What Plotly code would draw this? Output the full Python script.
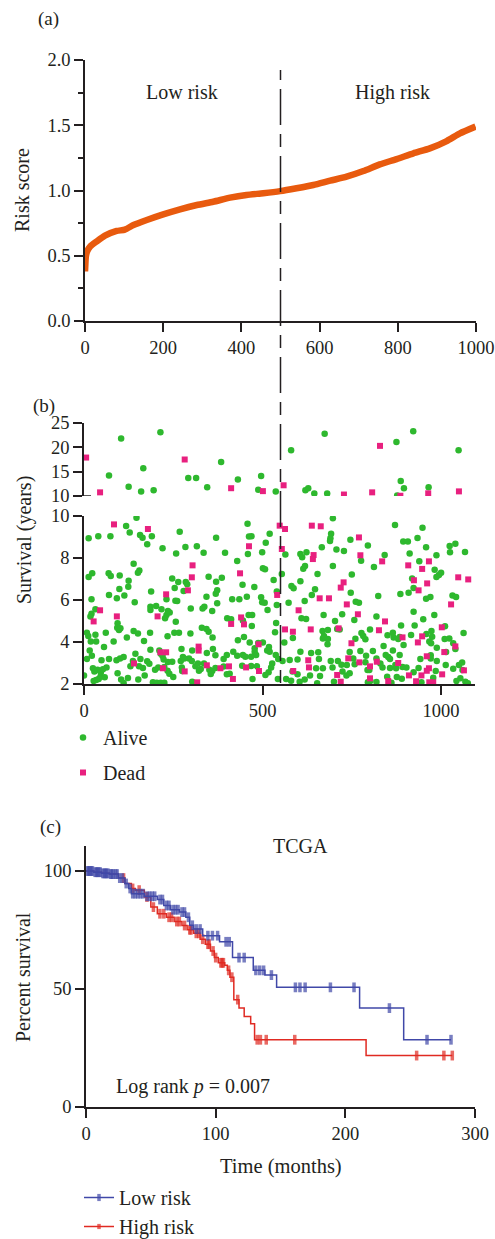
import numpy as np
import plotly.graph_objects as go

W, H = 495, 1239
FONT = "Liberation Serif"
INK = "#231f20"
ORANGE = "#e85a0e"
GREEN = "#2eb82e"
PINK = "#e8207f"
BLUE = "#4048a8"
RED = "#e02a22"
TICK = 18.5

# ---------------- Panel (a): sorted risk score ----------------
RISK_IDX = [0, 1, 2, 5, 13, 30, 51, 81, 102, 124, 158, 200, 243, 286, 328, 371, 413, 456, 499,
            541, 584, 627, 669, 712, 754, 797, 840, 882, 925, 959, 999]
RISK_SCORE = [0.38, 0.44, 0.49, 0.53, 0.57, 0.61, 0.654, 0.69, 0.70, 0.735, 0.774, 0.817, 0.856,
              0.889, 0.914, 0.945, 0.966, 0.979, 0.995, 1.017, 1.042, 1.075, 1.106, 1.149, 1.20,
              1.241, 1.285, 1.323, 1.379, 1.438, 1.49]
CUTOFF_IDX = 500

# ---------------- Panel (b): survival status (patient index, years) ----------------
ALIVE = [
    # > 10 years
    (70, 14.2), (104, 21.8), (125, 11.9), (160, 10.9), (166, 15.7), (195, 11.2), (214, 23.1),
    (292, 13.7), (314, 13.7), (345, 11.8), (384, 17.0), (431, 13.4), (488, 11.3), (496, 14.1),
    (537, 10.9), (580, 19.4), (620, 11.2), (628, 11.6), (645, 10.5), (674, 22.8), (681, 10.5),
    (875, 21.1), (877, 10.1), (887, 13.1), (896, 11.6), (922, 23.3), (965, 11.8), (1049, 19.4),
    # <= 10 years
    (147, 9.92), (118, 9.52), (128, 9.22), (13, 8.94), (40, 9.03), (74, 9.03), (157, 9.1),
    (164, 8.97), (190, 9.03), (177, 8.65), (268, 9.25), (370, 8.97), (220, 8.46), (258, 8.22),
    (284, 8.52), (316, 8.56), (335, 8.25), (139, 7.73), (155, 7.41), (151, 7.30), (13, 7.1),
    (23, 7.27), (69, 7.27), (75, 7.14), (100, 7.17), (125, 6.92), (124, 6.63), (247, 7.02),
    (264, 6.86), (285, 6.86), (289, 6.75), (349, 7.11), (370, 6.87), (188, 6.4), (254, 6.57),
    (279, 6.43), (343, 6.16), (369, 6.3), (373, 6.47), (70, 6.24), (99, 6.52), (92, 6.08),
    (113, 6.21), (21, 6.03), (142, 5.89), (231, 6.03), (256, 5.97), (261, 5.95), (186, 5.68),
    (186, 5.52), (202, 5.71), (217, 5.56), (235, 5.48), (231, 5.29), (227, 5.13), (240, 5.41),
    (299, 5.6), (337, 5.68), (332, 5.6), (359, 5.48), (373, 5.84), (21, 5.35), (18, 5.22),
    (32, 5.56), (257, 4.97), (94, 4.89), (93, 4.68), (98, 4.57), (102, 4.65), (139, 4.52),
    (151, 4.41), (185, 4.44), (253, 4.44), (266, 4.44), (234, 4.27), (298, 4.4), (330, 4.68),
    (343, 4.62), (349, 4.49), (360, 4.22), (8, 4.44), (12, 4.29), (32, 4.35), (34, 4.02),
    (19, 4.02), (61, 4.44), (83, 4.02), (120, 4.21), (168, 4.05), (56, 3.76), (16, 3.6),
    (22, 3.35), (8, 3.19), (186, 3.63), (211, 3.59), (215, 3.44), (220, 3.33), (223, 3.17),
    (273, 3.67), (294, 3.22), (303, 3.6), (312, 2.84), (344, 3.48), (361, 3.67), (368, 3.37),
    (144, 3.44), (158, 3.19), (49, 3.13), (70, 3.19), (91, 3.13), (101, 3.22), (111, 3.29),
    (137, 3.1), (177, 3.08), (235, 3.05), (247, 3.06), (271, 3.1), (277, 3.29), (281, 3.21),
    (302, 3.1), (319, 2.98), (336, 2.98), (351, 2.68), (359, 2.62), (368, 2.76), (0, 2.41),
    (25, 2.75), (29, 2.59), (38, 2.68), (47, 2.54), (53, 2.7), (27, 2.14), (34, 2.19),
    (41, 2.24), (46, 2.35), (58, 2.32), (63, 2.79), (94, 2.51), (104, 2.22), (111, 2.05),
    (123, 2.29), (130, 2.84), (154, 2.84), (165, 2.76), (152, 2.22), (170, 2.41), (183, 2.97),
    (199, 2.68), (208, 2.79), (225, 2.81), (193, 2.08), (204, 2.06), (215, 2.06), (225, 2.06),
    (234, 2.63), (239, 2.49), (250, 2.33), (274, 2.78), (275, 2.62), (303, 2.11), (322, 2.63),
    (327, 2.71), (355, 2.48),
    (458, 9.63), (469, 9.03), (462, 9.02), (520, 9.16), (509, 8.73), (459, 8.19), (499, 8.27),
    (395, 8.25), (429, 7.86), (501, 7.51), (507, 7.46), (554, 7.24), (531, 6.95), (444, 6.73),
    (477, 6.62), (456, 6.16), (496, 6.13), (499, 5.89), (506, 5.87), (435, 6.03), (415, 6.03),
    (386, 7.06), (540, 6.4), (540, 5.76), (514, 5.52), (573, 5.87), (581, 6.67), (587, 6.56),
    (606, 6.89), (606, 8.19), (611, 8.03), (623, 8.27), (564, 8.17), (619, 7.62), (614, 7.49),
    (654, 7.24), (647, 6.51), (638, 6.24), (618, 5.95), (697, 9.89), (692, 9.16), (689, 8.81),
    (690, 8.94), (666, 8.51), (707, 8.41), (728, 8.33), (697, 7.62), (746, 8.87), (750, 7.22),
    (747, 6.35), (671, 5.29), (609, 5.13), (622, 5.1), (723, 5.32), (703, 5.0), (401, 5.13),
    (412, 5.08), (461, 5.29), (471, 5.29), (445, 5.02), (470, 4.76), (538, 4.9), (535, 4.46),
    (561, 3.98), (585, 4.19), (668, 4.52), (683, 4.57), (669, 4.17), (683, 4.14), (672, 4.29),
    (682, 3.89), (709, 4.62), (716, 4.6), (431, 4.08), (448, 4.24), (464, 3.98), (488, 3.95),
    (501, 3.98), (518, 3.76), (513, 3.59), (520, 3.54), (478, 3.7), (478, 3.54), (482, 3.38),
    (468, 3.3), (452, 3.3), (445, 3.38), (429, 3.35), (418, 3.54), (400, 3.38), (391, 3.19),
    (537, 3.38), (544, 3.19), (527, 2.98), (524, 2.78), (556, 3.1), (576, 3.14), (598, 3.17),
    (606, 3.54), (636, 3.48), (656, 3.51), (658, 3.19), (691, 3.1), (711, 3.1), (721, 2.92),
    (744, 3.52), (736, 2.9), (517, 2.56), (508, 2.43), (484, 2.84), (468, 2.86), (443, 2.87),
    (472, 2.24), (400, 2.46), (408, 2.49), (391, 2.83), (543, 2.24), (566, 2.24), (580, 2.16),
    (598, 2.46), (604, 2.11), (618, 2.21), (633, 2.4), (650, 2.75), (669, 2.75), (661, 2.38),
    (653, 2.03), (700, 2.11), (696, 2.78), (724, 2.59), (735, 2.4), (744, 2.51), (584, 2.59),
    (871, 9.57), (948, 9.44), (894, 8.78), (907, 8.78), (934, 8.95), (958, 8.51), (1024, 8.57),
    (1040, 8.68), (1067, 8.29), (1025, 8.27), (795, 8.59), (842, 8.14), (912, 8.22), (987, 8.13),
    (776, 7.87), (812, 7.57), (939, 7.84), (982, 7.44), (1000, 7.3), (994, 7.19), (987, 7.1),
    (919, 7.02), (923, 6.57), (909, 6.35), (886, 6.29), (970, 6.14), (958, 6.06), (1032, 6.22),
    (1042, 6.14), (824, 6.19), (770, 5.87), (761, 5.92), (923, 5.44), (981, 5.29), (819, 5.21),
    (757, 5.05), (950, 5.08), (888, 4.78), (926, 4.78), (1011, 4.75), (801, 4.59), (777, 4.43),
    (760, 4.16), (788, 4.13), (782, 4.29), (850, 4.32), (865, 4.44), (867, 4.21), (880, 4.14),
    (884, 4.24), (916, 4.33), (959, 4.38), (973, 4.52), (975, 4.25), (967, 4.02), (972, 3.94),
    (988, 3.73), (1010, 4.14), (1023, 4.17), (1034, 3.94), (1040, 3.67), (1063, 4.43),
    (1014, 3.52), (774, 3.57), (809, 3.57), (839, 3.81), (865, 3.6), (895, 3.86), (845, 3.38),
    (852, 3.29), (857, 3.19), (884, 3.38), (790, 3.35), (788, 3.03), (819, 3.21), (754, 3.22),
    (758, 2.94), (942, 3.19), (988, 3.1), (1013, 2.9), (1034, 2.73), (1050, 2.9), (1059, 3.02),
    (1060, 2.67), (836, 2.79), (830, 2.98), (857, 2.76), (874, 2.75), (872, 2.9), (892, 2.81),
    (903, 2.79), (937, 2.76), (923, 2.56), (985, 2.62), (971, 3.37), (971, 3.22), (799, 2.67),
    (794, 2.67), (802, 2.14), (795, 2.08), (819, 2.1), (861, 2.06), (849, 2.35), (876, 2.33),
    (890, 2.25), (945, 2.08), (978, 2.3), (1043, 2.14), (1054, 2.27), (1068, 2.11), (1075, 2.03),
]
DEAD = [
    # > 10 years
    (6, 17.9), (45, 10.75), (282, 17.5), (412, 11.6), (501, 11.0), (559, 12.2), (728, 10.3),
    (807, 10.75), (829, 20.3), (886, 10.05), (964, 10.55), (1050, 10.95),
    # <= 10 years
    (84, 9.6), (179, 9.38), (304, 7.65), (302, 7.08), (291, 6.46), (230, 6.27), (45, 5.51),
    (27, 4.98), (92, 5.22), (206, 5.22), (321, 3.78), (321, 3.59), (230, 3.51), (214, 3.51),
    (140, 2.98), (221, 2.75), (282, 2.6), (344, 2.89), (317, 2.08),
    (548, 9.54), (563, 9.38), (638, 9.54), (663, 9.51), (462, 8.56), (554, 8.43), (643, 8.14),
    (641, 7.95), (437, 7.27), (719, 6.59), (727, 6.84), (541, 6.24), (660, 6.08), (686, 6.08),
    (736, 5.79), (601, 5.51), (440, 5.17), (412, 4.86), (448, 4.84), (563, 4.6), (585, 4.49),
    (635, 4.6), (713, 4.65), (489, 3.89), (740, 3.22), (628, 3.13), (630, 2.79), (586, 2.62),
    (406, 2.84), (382, 2.75), (454, 2.79), (490, 2.62), (417, 2.24), (709, 2.43), (719, 2.11),
    (749, 3.94),
    (770, 8.98), (774, 8.13), (835, 7.84), (908, 7.65), (966, 7.84), (947, 7.48), (961, 6.79),
    (924, 6.94), (937, 6.46), (1048, 7.08), (1076, 6.98), (1028, 5.79), (767, 5.32), (843, 4.98),
    (826, 4.56), (1002, 4.7), (892, 4.22), (947, 4.27), (935, 3.98), (1040, 3.79), (1009, 3.52),
    (960, 3.32), (880, 3.0), (801, 2.84), (820, 3.06), (771, 3.03), (966, 2.75), (960, 2.63),
    (1064, 2.65), (1003, 2.46), (910, 2.41), (945, 2.41), (801, 2.27), (852, 2.14), (930, 2.13),
    (967, 2.08), (978, 2.08),
]
BREAK_AT = 10

# ---------------- Panel (c): Kaplan-Meier (months, percent) ----------------
LOW_T = [0, 6, 12, 18, 25, 30, 33, 35, 45, 55, 60, 65, 72, 77, 80, 83, 90, 103, 113, 129, 138, 147, 211, 245]
LOW_S = [100, 99.5, 99, 98.7, 97, 94.7, 92.6, 90.4, 89.3, 87.9, 85.4, 83.6, 82.6, 80.4, 77, 75.4,
         72.6, 70, 63.3, 57.9, 55.9, 50.7, 41.9, 28.5]
LOW_CENS = [1, 2, 3, 4, 5, 7, 8, 9, 10, 11, 13, 14, 15, 16, 17, 19, 20, 21, 23, 24, 26, 28, 31, 34,
            36, 38, 40, 42, 44, 47, 49, 51, 53, 57, 59, 62, 64, 67, 69, 71, 74, 76, 79, 82, 85, 88,
            94, 97.5, 101.5, 108, 110.5, 118, 122, 131, 134, 137, 143, 161.5, 165, 169, 188.5,
            206.7, 234, 263, 281.5]
HIGH_T = [0, 6, 12, 18, 25, 30, 35, 38, 45, 50, 55, 62, 68, 74, 78, 83, 88, 92, 96, 99, 102, 107,
          109, 111, 114, 118, 122, 127, 130, 216]
HIGH_S = [100, 99.5, 99, 98.7, 97, 94.7, 92.6, 91.9, 89, 84.7, 81.9, 80.4, 78.6, 76.9, 75.1, 73.6,
          71.1, 69, 66.1, 63.3, 61.1, 60.1, 57.9, 55, 45.5, 42, 38.3, 35.3, 28.5, 21.8]
HIGH_CENS = [29, 36, 41, 47, 52, 57, 60, 64, 66, 70, 72, 76, 80, 81, 85, 87, 90, 94, 95, 98, 100,
             104, 105, 106, 110, 112.5, 117, 132, 134.5, 139, 161, 255, 276, 282.5]

LOG_RANK_P = "0.007"


def fx(p):
    return p / W


def fy(p):
    return 1 - p / H


fig = go.Figure()

# ---- (a)
fig.add_trace(go.Scatter(x=RISK_IDX, y=RISK_SCORE, mode="lines",
                         line=dict(color=ORANGE, width=6.5, shape="spline", smoothing=0.6),
                         showlegend=False, xaxis="x", yaxis="y", hoverinfo="skip"))

# ---- (b)
def split(points):
    top = [(x, y) for x, y in points if y > BREAK_AT]
    bot = [(x, y) for x, y in points if y <= BREAK_AT]
    return top, bot


for name, pts, color, sym, sz in [("Alive", ALIVE, GREEN, "circle", 6.5), ("Dead", DEAD, PINK, "square", 6)]:
    top, bot = split(pts)
    fig.add_trace(go.Scatter(x=[p[0] for p in bot], y=[p[1] for p in bot], mode="markers", name=name,
                             legendgroup=name, legend="legend",
                             marker=dict(color=color, symbol=sym, size=sz, line=dict(width=0)),
                             xaxis="x2", yaxis="y2"))
    fig.add_trace(go.Scatter(x=[p[0] for p in top], y=[p[1] for p in top], mode="markers", name=name,
                             legendgroup=name, showlegend=False,
                             marker=dict(color=color, symbol=sym, size=sz, line=dict(width=0)),
                             xaxis="x2", yaxis="y3"))


# ---- (c)
def km(times, surv, cens, color, name):
    t = np.asarray(times, float)
    s = np.asarray(surv, float)
    c = np.asarray(cens, float)
    cs = s[np.searchsorted(t, c, side="right") - 1]
    x = np.concatenate([t, c])
    y = np.concatenate([s, cs])
    size = np.concatenate([np.zeros(len(t)), np.full(len(c), 7.0)])
    o = np.argsort(x, kind="stable")
    return go.Scatter(x=x[o], y=y[o], mode="lines+markers", name=name, legend="legend2",
                      line=dict(color=color, width=1.5, shape="hv"),
                      marker=dict(symbol="line-ns", size=size[o], color=color,
                                  line=dict(color=color, width=3.5)),
                      xaxis="x3", yaxis="y4")


fig.add_trace(km(HIGH_T, HIGH_S, HIGH_CENS, RED, "High risk"))
fig.add_trace(km(LOW_T, LOW_S, LOW_CENS, BLUE, "Low risk"))

axis_common = dict(showline=True, linecolor=INK, linewidth=1.5, ticks="outside", tickcolor=INK,
                   tickwidth=1.5, ticklen=9, showgrid=False, zeroline=False, automargin=False,
                   tickfont=dict(family=FONT, size=TICK, color=INK))

fig.update_layout(
    width=W, height=H, autosize=False, margin=dict(l=0, r=0, t=0, b=0, pad=0, autoexpand=False),
    paper_bgcolor="white", plot_bgcolor="white",
    font=dict(family=FONT, color=INK, size=20),
    xaxis=dict(axis_common, domain=[fx(85), fx(476)], range=[0, 1000], tickvals=[0, 200, 400, 600, 800, 1000],
               anchor="y"),
    yaxis=dict(axis_common, domain=[fy(321), fy(60)], range=[0, 2], tickvals=[0, 0.5, 1.0, 1.5, 2.0],
               ticktext=["0.0", "0.5", "1.0", "1.5", "2.0"], anchor="x",
               minor=dict(dtick=0.25, ticks="outside", ticklen=5, tickwidth=1.5, tickcolor=INK, showgrid=False)),
    xaxis2=dict(axis_common, domain=[fx(84), fx(475)], range=[0, 1095], tickvals=[0, 500, 1000], anchor="y2"),
    yaxis2=dict(axis_common, domain=[fy(684), fy(516)], range=[2, 10], tickvals=[2, 4, 6, 8, 10], anchor="x2"),
    yaxis3=dict(axis_common, domain=[fy(496), fy(423)], range=[10, 25], tickvals=[10, 15, 20, 25], anchor="x2"),
    xaxis3=dict(axis_common, domain=[fx(86), fx(475)], range=[0, 300], tickvals=[0, 100, 200, 300], anchor="y4"),
    yaxis4=dict(axis_common, domain=[fy(1107), fy(846)], range=[0, 110.6], tickvals=[0, 50, 100], anchor="x3"),
    legend=dict(x=fx(63), y=fy(718), xanchor="left", yanchor="top", bgcolor="rgba(0,0,0,0)",
                font=dict(family=FONT, size=20, color=INK), tracegroupgap=6, traceorder="grouped",
                itemclick=False),
    legend2=dict(x=fx(79), y=fy(1178), xanchor="left", yanchor="top", bgcolor="rgba(0,0,0,0)",
                 font=dict(family=FONT, size=20, color=INK), traceorder="reversed", itemclick=False),
)

# cutoff dashed line spanning (a) and (b)
fig.add_shape(type="line", xref="x", yref="paper", x0=CUTOFF_IDX, x1=CUTOFF_IDX, y0=fy(683), y1=fy(70),
              line=dict(color=INK, width=1.5, dash="13px,9px,36px,9px"))
# break marker on the top band
fig.add_shape(type="line", xref="x2 domain", yref="y3", x0=0, x1=0.018, y0=BREAK_AT, y1=BREAK_AT,
              line=dict(color=INK, width=1.5))

ann = [
    dict(text="(a)", x=fx(48), y=fy(19), size=19),
    dict(text="(b)", x=fx(44), y=fy(406), size=19),
    dict(text="(c)", x=fx(50), y=fy(827), size=19),
    dict(text="Low risk", x=fx(182), y=fy(92), size=20),
    dict(text="High risk", x=fx(392), y=fy(92), size=20),
    dict(text="Risk score", x=fx(22), y=fy(190), size=20, angle=-90),
    dict(text="Survival (years)", x=fx(24), y=fy(540), size=20, angle=-90),
    dict(text="Percent survival", x=fx(23), y=fy(977), size=20, angle=-90),
    dict(text="TCGA", x=fx(300), y=fy(846), size=20),
    dict(text="Time (months)", x=fx(281), y=fy(1166), size=20.5),
]
for a in ann:
    fig.add_annotation(text=a["text"], x=a["x"], y=a["y"], xref="paper", yref="paper", showarrow=False,
                       xanchor="center", yanchor="middle", textangle=a.get("angle", 0),
                       font=dict(family=FONT, size=a["size"], color=INK))
fig.add_annotation(text=f"Log rank <i>p</i> = {LOG_RANK_P}", x=fx(114), y=fy(1086), xref="paper", yref="paper",
                   showarrow=False, xanchor="left", yanchor="middle", font=dict(family=FONT, size=20, color=INK))

fig.write_html("out.html")
